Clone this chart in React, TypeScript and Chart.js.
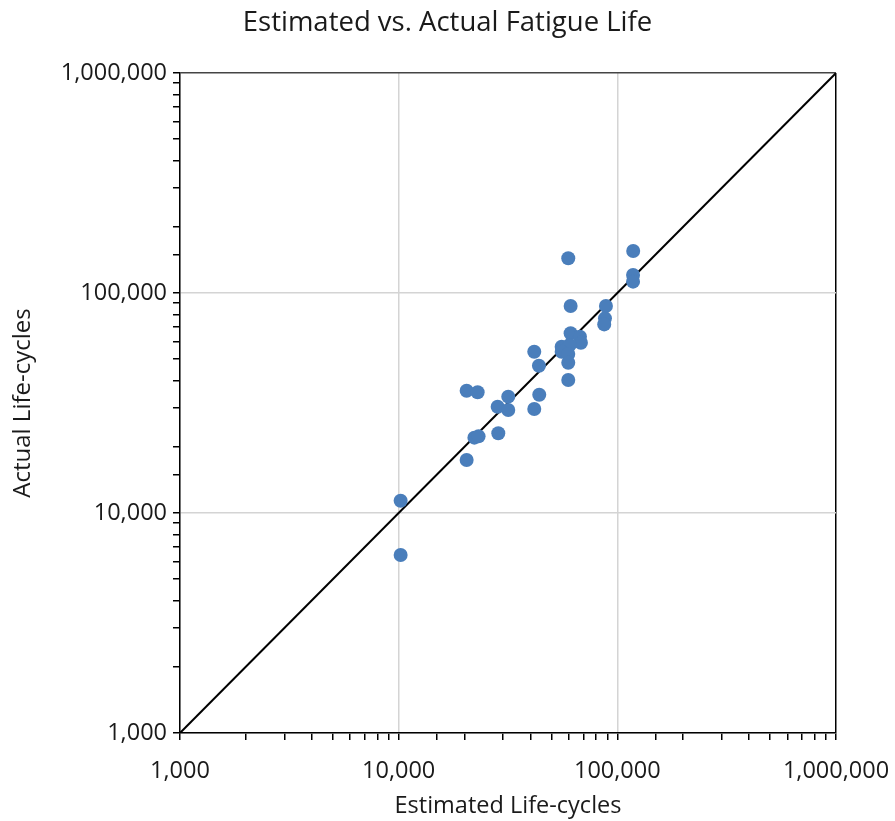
import React, { useEffect, useRef } from "react";
import { Chart, registerables } from "chart.js";

Chart.register(...registerables);

const estimatedLife = [
  59650, 118200, 118000, 118000, 61150, 88700, 87800, 87100, 61150, 67450, 68150,
  55650, 60500, 55650, 59650, 59650, 41700, 43800, 59650, 20460, 22970, 31710,
  43950, 28360, 31710, 41700, 22200, 23200, 28550, 20460, 10210, 10210,
];
const actualLife = [
  143800, 155200, 120700, 112600, 87300, 87300, 76700, 72000, 65600, 63300, 59400,
  57000, 58000, 54100, 52800, 48200, 54100, 46700, 40200, 35970, 35380, 33790,
  34500, 30420, 29400, 29700, 22000, 22300, 23030, 17420, 11370, 6440,
];
const axisRange = [1000, 1000000];
const chartTitle = "Estimated vs. Actual Fatigue Life";
const xTitle = "Estimated Life-cycles";
const yTitle = "Actual Life-cycles";

const FONT = "'Open Sans', 'Noto Sans', sans-serif";

const isDecade = (v: number) => {
  const l = Math.log10(v);
  return Math.abs(l - Math.round(l)) < 1e-9;
};

const centerTitlePlugin = {
  id: "centerTitle",
  afterLayout(chart: any) {
    const tb = chart.titleBlock;
    if (tb) {
      tb.left = 0;
      tb.right = chart.width;
      tb.width = chart.width;
    }
  },
};

export default function App() {
  const ref = useRef<HTMLCanvasElement | null>(null);

  useEffect(() => {
    if (!ref.current) return;
    const points = estimatedLife.map((x, i) => ({ x, y: actualLife[i] }));
    const diag = axisRange.map((v) => ({ x: v, y: v }));

    const gridColor = (edgeColor: string) => (ctx: any) => {
      const v = ctx.tick ? ctx.tick.value : 0;
      if (!isDecade(v)) return "rgba(0,0,0,0)";
      if (v >= axisRange[1]) return edgeColor;
      return "#d4d4d4";
    };

    const tickCb = (value: any) => {
      const v = Number(value);
      return isDecade(v) ? v.toLocaleString("en-US") : "";
    };

    const chart = new Chart(ref.current, {
      type: "scatter",
      plugins: [centerTitlePlugin],
      data: {
        datasets: [
          {
            data: points,
            backgroundColor: "#4a7ebb",
            borderColor: "#4a7ebb",
            pointRadius: 7,
            pointHoverRadius: 7,
            borderWidth: 0,
            order: 0,
          },
          {
            type: "line",
            data: diag,
            borderColor: "#000000",
            borderWidth: 2,
            pointRadius: 0,
            fill: false,
            order: 1,
          } as any,
        ],
      },
      options: {
        responsive: false,
        animation: false,
        layout: { padding: { left: 0, right: 59, top: 0, bottom: 0 } },
        plugins: {
          legend: { display: false },
          tooltip: { enabled: false },
          title: {
            display: true,
            text: chartTitle,
            color: "#1a1a1a",
            font: { family: FONT, size: 27.5, weight: "normal" },
            padding: { top: 7, bottom: 33 },
          },
        },
        scales: {
          x: {
            type: "logarithmic",
            min: axisRange[0],
            max: axisRange[1],
            afterFit: (s: any) => {
              s.height = 88;
              s.paddingLeft = 0;
              s.paddingRight = 0;
            },
            border: { display: true, color: "#000000", width: 1.5 },
            grid: {
              color: gridColor("#000000"),
              lineWidth: 1.5,
              tickColor: "#000000",
              tickLength: 7,
              tickWidth: 1.5,
            },
            ticks: {
              autoSkip: false,
              maxRotation: 0,
              minRotation: 0,
              padding: 17,
              color: "#1a1a1a",
              font: { family: FONT, size: 23.5 },
              callback: tickCb,
            },
            title: {
              display: true,
              text: xTitle,
              color: "#1a1a1a",
              font: { family: FONT, size: 23.5 },
              padding: { top: 0, bottom: 1 },
            },
          },
          y: {
            type: "logarithmic",
            min: axisRange[0],
            max: axisRange[1],
            afterFit: (s: any) => {
              s.width = 180;
            },
            border: { display: true, color: "#000000", width: 1.5 },
            grid: {
              color: gridColor("#444444"),
              lineWidth: 1.5,
              tickColor: "#000000",
              tickLength: 7,
              tickWidth: 1.5,
            },
            ticks: {
              autoSkip: false,
              padding: 6,
              color: "#1a1a1a",
              font: { family: FONT, size: 23.5 },
              callback: tickCb,
            },
            title: {
              display: true,
              text: yTitle,
              color: "#1a1a1a",
              font: { family: FONT, size: 24 },
              padding: { top: 9, bottom: 0 },
            },
          },
        },
      },
    });
    return () => chart.destroy();
  }, []);

  return (
    <div style={{ position: "absolute", left: 0, top: 0, width: 895, height: 821, background: "#fff" }}>
      <canvas ref={ref} width={895} height={821} style={{ display: "block" }} />
    </div>
  );
}
